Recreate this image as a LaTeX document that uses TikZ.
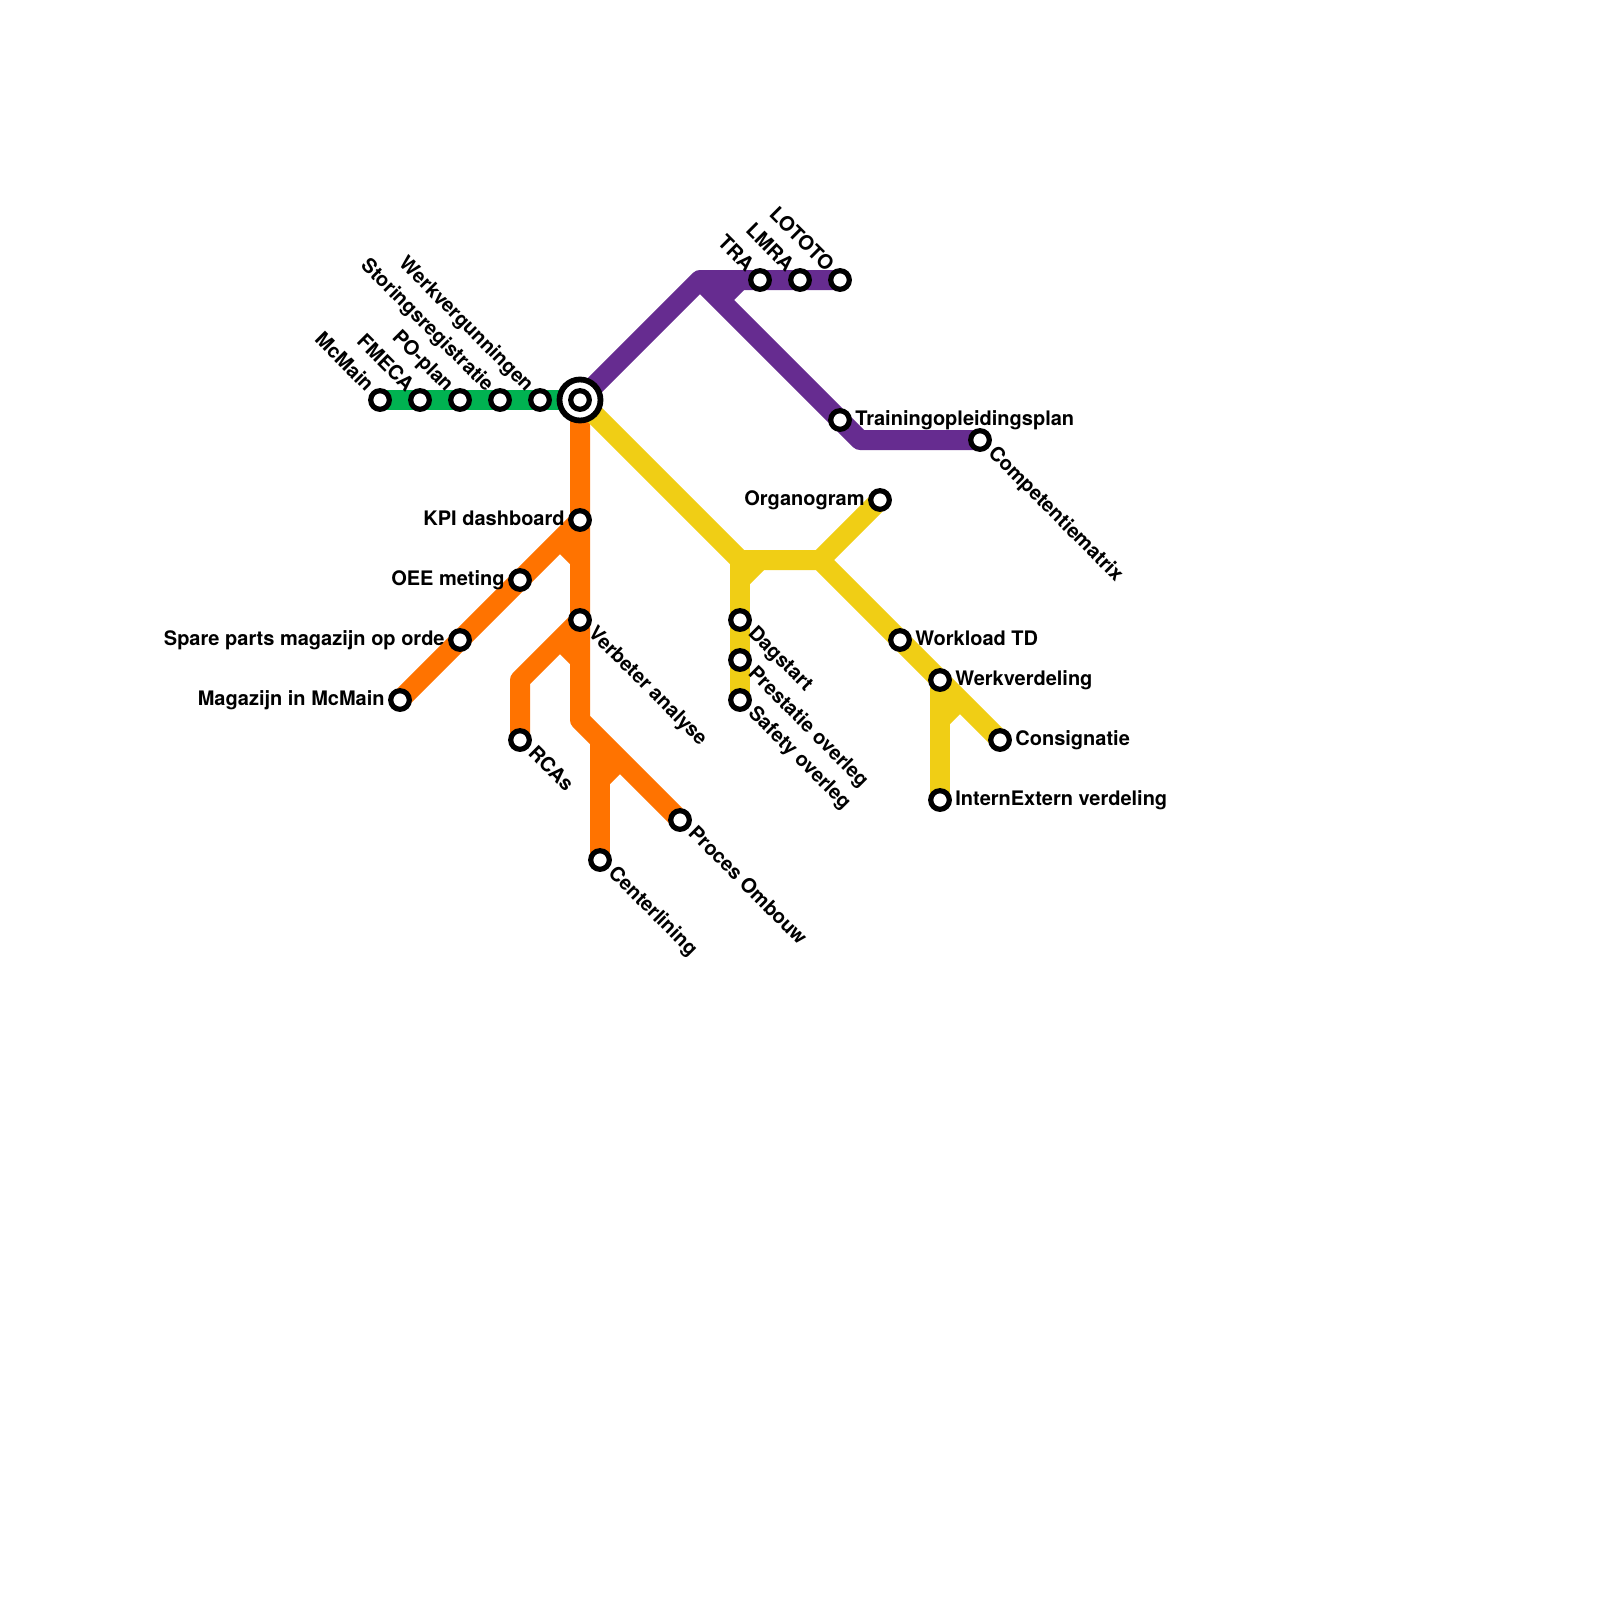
\documentclass[tikz,border=0pt]{standalone}
\usepackage{fontspec}
\setmainfont{TeX Gyre Heros}
\usetikzlibrary{backgrounds}
\definecolor{mgreen}{HTML}{00B251}
\definecolor{mpurple}{HTML}{662C90}
\definecolor{morange}{HTML}{FF7300}
\definecolor{myellow}{HTML}{F0CE15}
\tikzset{
  stn/.style={circle,draw=black,fill=white,line width=2.6pt,minimum size=9.3pt,inner sep=0pt},
  hubstn/.style={circle,draw=black,fill=white,line width=2.9pt,minimum size=20.5pt,inner sep=0pt},
  lbl/.style={inner sep=0pt,font=\fontsize{10}{12}\selectfont\bfseries,text=black},
  lblL/.style={lbl,anchor=base east},
  lblR/.style={lbl,anchor=base west},
  lblUL/.style={lbl,anchor=base east,rotate=-45},
  lblDR/.style={lbl,anchor=base west,rotate=-45},
  rail/.style={line width=10pt,line join=round,line cap=butt},
}
\begin{document}
\begin{tikzpicture}[x=0.5pt,y=-0.5pt]
\useasboundingbox (0,0) rectangle (1600,1600);
% hub
\node[hubstn] (hubo) at (580,400) {};
\node[stn] (hub) at (580,400) {};
% stations
\node[stn] (mc) at (380,400) {};
\node[stn] (fm) at (420,400) {};
\node[stn] (po) at (460,400) {};
\node[stn] (st) at (500,400) {};
\node[stn] (wk) at (540,400) {};
\node[stn] (kpi) at (580,520) {};
\node[stn] (oee) at (520,580) {};
\node[stn] (spa) at (460,640) {};
\node[stn] (mag) at (400,700) {};
\node[stn] (ver) at (580,620) {};
\node[stn] (rca) at (520,740) {};
\node[stn] (cen) at (600,860) {};
\node[stn] (pro) at (680,820) {};
\node[stn] (tra) at (760,280) {};
\node[stn] (lmr) at (800,280) {};
\node[stn] (lot) at (840,280) {};
\node[stn] (trn) at (840,420) {};
\node[stn] (com) at (980,440) {};
\node[stn] (org) at (880,500) {};
\node[stn] (dag) at (740,620) {};
\node[stn] (pre) at (740,660) {};
\node[stn] (saf) at (740,700) {};
\node[stn] (wor) at (900,640) {};
\node[stn] (wer) at (940,680) {};
\node[stn] (con) at (1000,740) {};
\node[stn] (ine) at (940,800) {};
% way points
\coordinate (p1) at (700,280);
\coordinate (p2) at (860,440);
\coordinate (p3) at (720,300);
\coordinate (p4) at (740,280);
\coordinate (o1) at (560,540);
\coordinate (o2) at (580,560);
\coordinate (o3) at (560,640);
\coordinate (o4) at (580,660);
\coordinate (o5) at (520,680);
\coordinate (o6) at (580,720);
\coordinate (o7) at (600,740);
\coordinate (o8) at (600,780);
\coordinate (o9) at (620,760);
\coordinate (y1) at (740,560);
\coordinate (y2) at (820,560);
\coordinate (y3) at (740,580);
\coordinate (y4) at (760,560);
\coordinate (y5) at (940,720);
\coordinate (y6) at (960,700);
% lines
\begin{pgfonlayer}{background}
\draw[rail,mgreen] (mc.center) -- (fm.center) -- (po.center) -- (st.center) -- (wk.center) -- (hub.center);
\draw[rail,morange] (hub.center) -- (kpi.center) -- (ver.center) -- (o6) -- (pro.center);
\draw[rail,morange] (kpi.center) -- (oee.center) -- (spa.center) -- (mag.center);
\draw[rail,morange] (o1) -- (o2);
\draw[rail,morange] (ver.center) -- (o5) -- (rca.center);
\draw[rail,morange] (o3) -- (o4);
\draw[rail,morange] (o7) -- (cen.center);
\draw[rail,morange] (o8) -- (o9);
\draw[rail,mpurple] (hub.center) -- (p1) -- (tra.center) -- (lmr.center) -- (lot.center);
\draw[rail,mpurple] (p1) -- (trn.center) -- (p2) -- (com.center);
\draw[rail,mpurple] (p3) -- (p4);
\draw[rail,myellow] (hub.center) -- (y1) -- (y2) -- (wor.center) -- (wer.center) -- (con.center);
\draw[rail,myellow] (y1) -- (dag.center) -- (pre.center) -- (saf.center);
\draw[rail,myellow] (y3) -- (y4);
\draw[rail,myellow] (y2) -- (org.center);
\draw[rail,myellow] (wer.center) -- (ine.center);
\draw[rail,myellow] (y5) -- (y6);
\end{pgfonlayer}
% labels, upper-left diagonal
\node[lblUL] (lmc) at ([shift={(-14.1,-7.1)}]mc.center) {McMain};
\node[lblUL] (lfm) at ([shift={(-14.1,-7.1)}]fm.center) {FMECA};
\node[lblUL] (lpo) at ([shift={(-14.1,-7.1)}]po.center) {PO-plan};
\node[lblUL] (lst) at ([shift={(-14.1,-7.1)}]st.center) {Storingsregistratie};
\node[lblUL] (lwk) at ([shift={(-14.1,-7.1)}]wk.center) {Werkvergunningen};
\node[lblUL] (ltr) at ([shift={(-14.1,-7.1)}]tra.center) {TRA};
\node[lblUL] (llm) at ([shift={(-14.1,-7.1)}]lmr.center) {LMRA};
\node[lblUL] (llo) at ([shift={(-14.1,-7.1)}]lot.center) {LOTOTO};
% labels, left
\node[lblL] (lkp) at ([shift={(-15,5)}]kpi.center) {KPI dashboard};
\node[lblL] (loe) at ([shift={(-15,5)}]oee.center) {OEE meting};
\node[lblL] (lsp) at ([shift={(-15,5)}]spa.center) {Spare parts magazijn op orde};
\node[lblL] (lma) at ([shift={(-15,5)}]mag.center) {Magazijn in McMain};
\node[lblL] (lor) at ([shift={(-15,5)}]org.center) {Organogram};
% labels, right
\node[lblR] (ltn) at ([shift={(15,5)}]trn.center) {Trainingopleidingsplan};
\node[lblR] (lwo) at ([shift={(15,5)}]wor.center) {Workload TD};
\node[lblR] (lwe) at ([shift={(15,5)}]wer.center) {Werkverdeling};
\node[lblR] (lco) at ([shift={(15,5)}]con.center) {Consignatie};
\node[lblR] (lin) at ([shift={(15,5)}]ine.center) {InternExtern verdeling};
% labels, lower-right diagonal
\node[lblDR] (lve) at ([shift={(7.1,14.1)}]ver.center) {Verbeter analyse};
\node[lblDR] (lrc) at ([shift={(7.1,14.1)}]rca.center) {RCAs};
\node[lblDR] (lce) at ([shift={(7.1,14.1)}]cen.center) {Centerlining};
\node[lblDR] (lpr) at ([shift={(7.1,14.1)}]pro.center) {Proces Ombouw};
\node[lblDR] (lcm) at ([shift={(7.1,14.1)}]com.center) {Competentiematrix};
\node[lblDR] (lda) at ([shift={(7.1,14.1)}]dag.center) {Dagstart};
\node[lblDR] (lpe) at ([shift={(7.1,14.1)}]pre.center) {Prestatie overleg};
\node[lblDR] (lsa) at ([shift={(7.1,14.1)}]saf.center) {Safety overleg};
\end{tikzpicture}
\end{document}
